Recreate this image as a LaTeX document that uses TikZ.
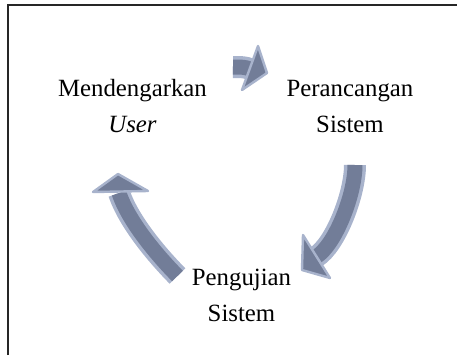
\documentclass[tikz,border=0pt]{standalone}
\usepackage{fontspec}
\setmainfont{Liberation Serif}
\usetikzlibrary{positioning}
\definecolor{arrowbody}{RGB}{114,125,152}
\definecolor{arrowrim}{RGB}{168,179,204}

\begin{document}
\begin{tikzpicture}[x=0.5pt,y=-0.5pt]
	\tikzstyle{label}=[align=center, inner sep=0pt, font=\fontsize{12.4}{18}\selectfont]
	\tikzstyle{shaft rim}=[draw=arrowrim, line width=11pt]
	\tikzstyle{shaft core}=[draw=arrowbody, line width=7.5pt]
	\tikzstyle{head}=[fill=arrowbody, draw=arrowrim, line width=1.2pt, line join=round]

	\useasboundingbox (0,0) rectangle (457,355);
	% frame
	\draw[line width=1pt, black!85] (8,355) -- (8,5) -- (457,5);

	% labels
	\node[label] (listen) at (132.5,106.5) {Mendengarkan\\\textit{User}};
	\node[label] (design) at (350,106.5) {Perancangan\\Sistem};
	\node[label] (test) at (241.5,295.5) {Pengujian\\Sistem};

	% arrow: listen -> design
	\coordinate (a1 tail) at (233,67);
	\coordinate (a1 base) at (250,69);
	\draw[shaft rim] (a1 tail) .. controls (241,67) and (245,67) .. (a1 base);
	\draw[shaft core] (a1 tail) .. controls (241,67) and (245,67) .. (a1 base);
	\filldraw[head] (258,46) -- (267,73) -- (242,90) -- cycle;

	% arrow: design -> test
	\coordinate (a2 tail) at (355,165);
	\coordinate (a2 base) at (316.5,256.5);
	\draw[shaft rim] (a2 tail) .. controls (355,195) and (335,245) .. (a2 base);
	\draw[shaft core] (a2 tail) .. controls (355,195) and (335,245) .. (a2 base);
	\filldraw[head] (303,235) -- (302,270) -- (330,278) -- cycle;

	% arrow: test -> listen
	\coordinate (a3 tail) at (177.5,276);
	\coordinate (a3 base) at (119,193);
	\draw[shaft rim] (a3 tail) .. controls (156.5,254.7) and (128.6,221.5) .. (a3 base);
	\draw[shaft core] (a3 tail) .. controls (156.5,254.7) and (128.6,221.5) .. (a3 base);
	\filldraw[head] (93,192) -- (118,174) -- (148,191) -- cycle;
\end{tikzpicture}
\end{document}
